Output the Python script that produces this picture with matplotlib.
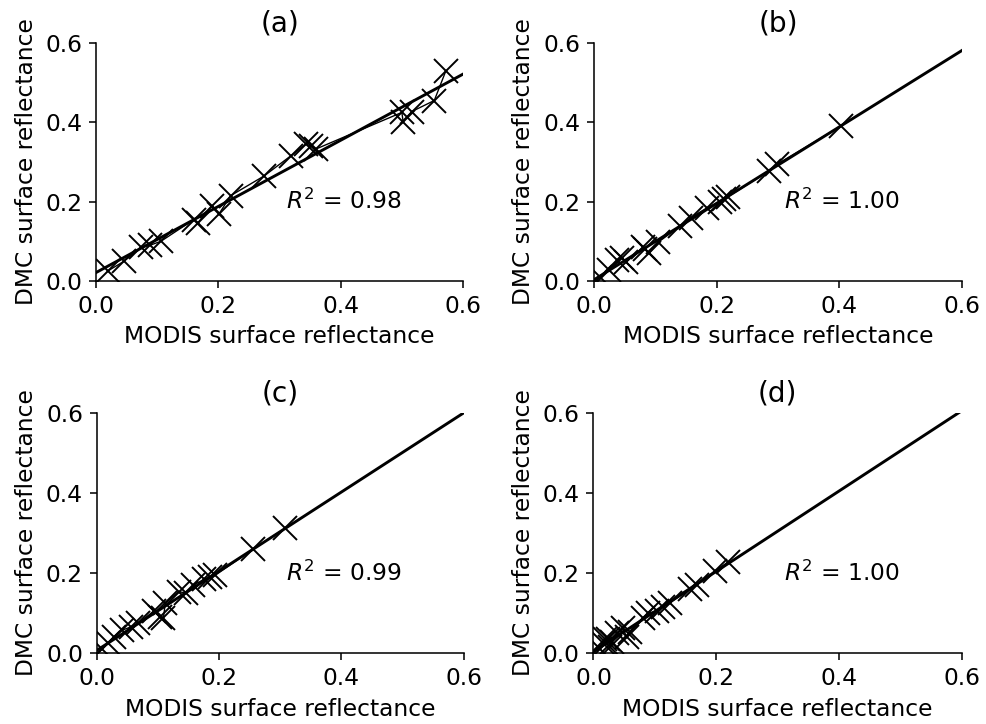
import numpy as np
import matplotlib
matplotlib.use('Agg')
import matplotlib.pyplot as plt

# MODIS vs DMC surface reflectance
modis_a = [0.019, 0.046, 0.074, 0.088, 0.106, 0.160, 0.166, 0.190, 0.201, 0.220,
           0.275, 0.318, 0.343, 0.352, 0.360, 0.500, 0.502, 0.516, 0.553, 0.572]
dmc_a = [0.025, 0.050, 0.085, 0.090, 0.100, 0.155, 0.146, 0.190, 0.169, 0.215,
         0.265, 0.315, 0.345, 0.340, 0.333, 0.425, 0.402, 0.427, 0.455, 0.530]

modis_b = [0.010, 0.024, 0.037, 0.045, 0.053, 0.080, 0.084, 0.090, 0.105, 0.140,
           0.158, 0.185, 0.205, 0.212, 0.218, 0.285, 0.298, 0.402]
dmc_b = [0.010, 0.027, 0.052, 0.057, 0.048, 0.085, 0.080, 0.070, 0.098, 0.138,
         0.160, 0.185, 0.200, 0.207, 0.212, 0.277, 0.294, 0.390]

modis_c = [0.008, 0.019, 0.028, 0.042, 0.056, 0.068, 0.093, 0.104, 0.109, 0.112,
           0.134, 0.146, 0.158, 0.176, 0.185, 0.194, 0.256, 0.308]
dmc_c = [0.010, 0.025, 0.041, 0.058, 0.066, 0.075, 0.105, 0.091, 0.087, 0.125,
         0.154, 0.150, 0.170, 0.185, 0.190, 0.195, 0.260, 0.312]

modis_d = [0.010, 0.015, 0.019, 0.024, 0.027, 0.030, 0.038, 0.048, 0.054, 0.059,
           0.081, 0.089, 0.103, 0.114, 0.124, 0.158, 0.168, 0.198, 0.220]
dmc_d = [0.012, 0.025, 0.037, 0.035, 0.016, 0.029, 0.050, 0.062, 0.041, 0.054,
         0.087, 0.100, 0.106, 0.116, 0.125, 0.160, 0.170, 0.206, 0.228]

titles = ['(a)', '(b)', '(c)', '(d)']
r2_labels = ['0.98', '1.00', '0.99', '1.00']
ticks = [0.0, 0.2, 0.4, 0.6]

panels = [(modis_a, dmc_a), (modis_b, dmc_b), (modis_c, dmc_c), (modis_d, dmc_d)]
boxes = [[0.0974, 0.6119, 0.3722, 0.3287],
         [0.6024, 0.6119, 0.3733, 0.3287],
         [0.0981, 0.0976, 0.3722, 0.3323],
         [0.6019, 0.0976, 0.3733, 0.3323]]

plt.rcParams['font.size'] = 12
fig = plt.figure(figsize=(986 / 140, 724 / 140), dpi=140)
for i, (xs, ys) in enumerate(panels):
    ax = fig.add_axes(boxes[i])
    xs = np.array(xs)
    ys = np.array(ys)
    order = np.argsort(xs)
    ax.plot(xs[order], ys[order], 'kx-', ms=12, mew=1.0, lw=0.7)
    slope, icpt = np.polyfit(xs, ys, 1)
    xl = np.array([0.0, 0.6])
    ax.plot(xl, slope * xl + icpt, 'k-', lw=1.5)
    ax.set_xlim(0, 0.6)
    ax.set_ylim(0, 0.6)
    ax.set_xticks(ticks)
    ax.set_yticks(ticks)
    ax.spines['top'].set_visible(False)
    ax.spines['right'].set_visible(False)
    ax.set_xlabel('MODIS surface reflectance')
    ax.set_ylabel('DMC surface reflectance')
    ax.set_title(titles[i])
    ax.text(0.31, 0.2, '$R^2$ = ' + r2_labels[i], va='center')

plt.savefig('out.png', dpi=140)
